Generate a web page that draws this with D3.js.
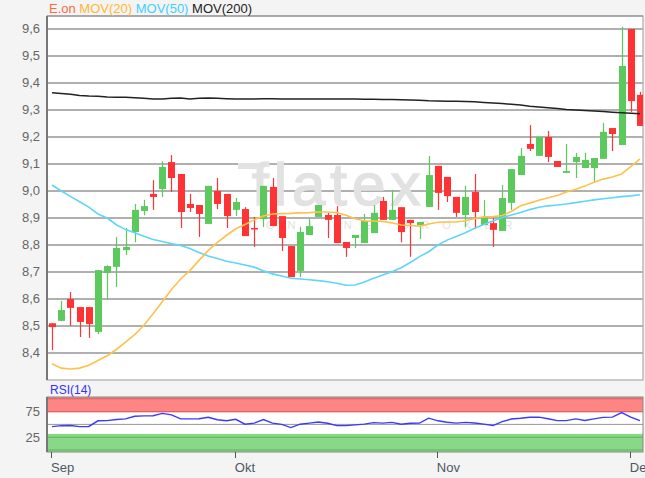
<!DOCTYPE html>
<html><head><meta charset="utf-8">
<script src="https://cdn.jsdelivr.net/npm/d3@7"></script>
<style>html,body{margin:0;padding:0;background:#f4f4f4;overflow:hidden}</style>
</head><body><svg id="c" width="645" height="478"></svg>
<script>
const opens=[8.51,8.519,8.60,8.57,8.57,8.478,8.696,8.719,8.781,8.848,
8.926,8.989,9.007,9.107,9.063,8.952,8.948,8.878,9.0,8.989,
8.93,8.933,8.863,8.896,9.015,8.907,8.796,8.704,8.837,8.904,
8.911,8.911,8.811,8.826,8.807,8.844,8.963,8.893,8.94,8.893,
8.874,8.941,9.093,9.052,8.978,8.911,8.996,8.874,8.881,8.852,
8.956,9.059,9.174,9.13,9.2,9.111,9.067,9.107,9.085,9.085,
9.119,9.233,9.17,9.6,9.356];
const closes=[8.496,8.559,8.567,8.515,8.507,8.707,8.722,8.789,8.793,8.93,
8.944,8.978,9.089,9.048,8.922,8.937,8.915,9.019,8.952,8.907,
8.959,8.833,8.859,9.019,8.87,8.826,8.681,8.848,8.87,8.948,
8.893,8.807,8.789,8.837,8.889,8.919,8.893,8.93,8.848,8.881,
8.885,9.059,8.993,8.981,8.919,8.978,8.922,8.904,8.856,8.974,
9.081,9.13,9.156,9.2,9.126,9.089,9.074,9.126,9.115,9.122,
9.219,9.211,9.463,9.333,9.241];
const highs=[8.511,8.593,8.626,8.57,8.57,8.707,8.725,8.83,8.863,8.952,
8.967,9.04,9.11,9.133,9.063,8.989,8.948,9.019,9.048,8.989,
8.974,8.94,8.904,9.019,9.048,8.907,8.796,8.867,8.896,8.948,
8.919,8.944,8.811,8.837,8.915,8.948,8.978,9.004,8.94,8.893,
8.885,9.13,9.093,9.052,8.978,9.019,9.063,8.967,8.9,9.022,
9.081,9.159,9.244,9.2,9.222,9.111,9.174,9.141,9.141,9.122,
9.252,9.233,9.607,9.6,9.367];
const lows=[8.411,8.519,8.50,8.459,8.456,8.47,8.6,8.644,8.763,8.81,
8.91,8.93,8.978,8.996,8.863,8.922,8.83,8.878,8.933,8.863,
8.907,8.833,8.793,8.867,8.87,8.778,8.681,8.681,8.837,8.904,
8.826,8.807,8.756,8.789,8.807,8.844,8.893,8.893,8.81,8.756,
8.822,8.941,8.93,8.959,8.904,8.867,8.859,8.874,8.793,8.852,
8.93,9.059,9.148,9.13,9.107,9.089,9.067,9.048,9.085,9.033,
9.119,9.148,9.17,9.293,9.241];
const mov20=[8.36,8.344,8.341,8.344,8.355,8.372,8.39,8.413,8.44,8.468,
8.503,8.545,8.59,8.635,8.674,8.705,8.743,8.78,8.81,8.836,
8.86,8.876,8.893,8.907,8.915,8.916,8.917,8.919,8.92,8.922,
8.922,8.92,8.91,8.897,8.889,8.889,8.887,8.882,8.874,8.872,
8.870,8.878,8.884,8.885,8.885,8.89,8.898,8.904,8.905,8.909,
8.924,8.945,8.955,8.966,8.975,8.983,8.996,9.006,9.018,9.032,
9.044,9.052,9.063,9.09,9.119];
const mov50=[9.022,9.0,8.98,8.96,8.94,8.915,8.9,8.875,8.857,8.845,
8.832,8.82,8.813,8.805,8.798,8.787,8.772,8.759,8.75,8.74,
8.733,8.726,8.718,8.705,8.693,8.685,8.677,8.674,8.671,8.668,
8.664,8.658,8.651,8.652,8.663,8.677,8.689,8.701,8.716,8.735,
8.757,8.775,8.8,8.818,8.831,8.845,8.862,8.876,8.889,8.902,
8.911,8.92,8.931,8.94,8.945,8.948,8.952,8.957,8.962,8.967,
8.971,8.975,8.979,8.982,8.986];
const mov200=[9.364,9.361,9.358,9.354,9.352,9.351,9.348,9.347,9.347,9.345,
9.343,9.341,9.341,9.343,9.344,9.341,9.343,9.344,9.343,9.342,
9.341,9.341,9.341,9.342,9.342,9.341,9.341,9.341,9.341,9.341,
9.341,9.341,9.341,9.341,9.340,9.340,9.339,9.339,9.338,9.337,
9.336,9.334,9.333,9.332,9.332,9.331,9.33,9.328,9.326,9.324,
9.321,9.318,9.314,9.311,9.308,9.305,9.302,9.3,9.298,9.296,
9.294,9.292,9.29,9.288,9.286];
const rsi14=[45.7,47.5,47.7,45.7,46,57,57.4,59.5,60.7,66,
66.6,66.8,71.5,68.5,60.7,60.7,61,64,59,57,
60,50.4,52.5,59.5,52.4,50,43.8,50.4,52.4,54.8,
52.2,47.7,47.7,49,50.6,53.4,52.5,54,50.4,52.3,
52.4,62.1,57,54.3,52.5,54,52.6,50.5,47.8,55.5,
60.5,62,64,64.1,61,57.4,57.4,60.7,57.6,60.7,
63.8,64.1,73,64.1,57.4];
const yTicks=[8.4,8.5,8.6,8.7,8.8,8.9,9.0,9.1,9.2,9.3,9.4,9.5,9.6];
const monthLabels=["Sep","Okt","Nov","Dec"];
const monthStartIdx=[0,20,42,63];
const rsiTicks=[25,75];
const legendItems=[{t:"E.on",c:"#ff6a3d"},{t:"MOV(20)",c:"#ffb833"},{t:"MOV(50)",c:"#3fd0ff"},{t:"MOV(200)",c:"#222"}];

const svg=d3.select("#c");
const font="'Liberation Sans', Arial, sans-serif";
const L=47,R=643,T=16,B=380;
const RT=397,RB=452;
const n=opens.length;
const x=d3.scaleLinear().domain([-0.55,64.33]).range([L,R]);
const y=d3.scaleLinear().domain([8.3,9.648]).range([B,T]);
const yr=d3.scaleLinear().domain([-3.9,103.5]).range([RB,RT]);

svg.append("rect").attr("width",645).attr("height",478).attr("fill","#f4f4f4");
svg.append("defs").append("clipPath").attr("id","pc").append("rect").attr("x",L).attr("y",T).attr("width",R-L).attr("height",B-T);

svg.append("rect").attr("x",L).attr("y",T).attr("width",R-L).attr("height",B-T).attr("fill","#fff").attr("stroke","#999").attr("stroke-width",1);

svg.append("g").selectAll("line").data(yTicks).join("line")
 .attr("x1",L).attr("x2",R).attr("y1",d=>Math.round(y(d))).attr("y2",d=>Math.round(y(d)))
 .attr("stroke","#b0b0b0").attr("stroke-width",2);

svg.append("g").selectAll("text").data(yTicks).join("text")
 .attr("x",40).attr("y",d=>y(d)+4.5).attr("text-anchor","end")
 .attr("font-family",font).attr("font-size",13).attr("fill","#666")
 .text(d=>d.toFixed(1).replace(".",","));

// watermark
const wm=svg.append("g").attr("clip-path","url(#pc)");
wm.append("rect").attr("x",238).attr("y",163).attr("width",24).attr("height",6).attr("fill","#e2e2e2");
wm.append("text").attr("x",252).attr("y",205).attr("font-family",font).attr("font-size",60)
 .attr("letter-spacing",5).attr("fill","#e2e2e2").attr("stroke","#e2e2e2").attr("stroke-width",1.5).text("flatex");
wm.append("text").attr("x",266).attr("y",229).attr("font-family",font).attr("font-size",11)
 .attr("letter-spacing",13).attr("fill","#e2e2e2").text("ONLINE BROKER");

const g=svg.append("g").attr("clip-path","url(#pc)");
const idx=d3.range(n);
const bw=7;
const col=i=>closes[i]>=opens[i]?"#5cc95c":"#ff3333";
g.selectAll("line.w").data(idx).join("line").attr("class","w")
 .attr("x1",i=>Math.round(x(i))+0.5).attr("x2",i=>Math.round(x(i))+0.5)
 .attr("y1",i=>y(highs[i])).attr("y2",i=>y(lows[i]))
 .attr("stroke",col).attr("stroke-width",1.2);
g.selectAll("rect.b").data(idx).join("rect").attr("class","b")
 .attr("x",i=>Math.round(x(i))+0.5-bw/2).attr("width",bw)
 .attr("y",i=>y(Math.max(opens[i],closes[i])))
 .attr("height",i=>Math.max(1.5,Math.abs(y(opens[i])-y(closes[i]))))
 .attr("fill",col);

const line=arr=>d3.line().x(i=>x(i)).y(i=>y(arr[i]))(idx);
g.append("path").attr("d",line(mov200)).attr("fill","none").attr("stroke","#222").attr("stroke-width",1.5);
g.append("path").attr("d",line(mov50)).attr("fill","none").attr("stroke","#5fd6f8").attr("stroke-width",1.6);
g.append("path").attr("d",line(mov20)).attr("fill","none").attr("stroke","#ffc14d").attr("stroke-width",1.6);

svg.append("line").attr("x1",L).attr("x2",L).attr("y1",T).attr("y2",B).attr("stroke","#777").attr("stroke-width",2);
svg.append("line").attr("x1",L).attr("x2",R).attr("y1",T).attr("y2",T).attr("stroke","#888").attr("stroke-width",1);

const lg=svg.append("text").attr("x",49).attr("y",13).attr("font-family",font).attr("font-size",13);
legendItems.forEach((d,k)=>{lg.append("tspan").attr("fill",d.c).text((k?" ":"")+d.t);});

// RSI panel
svg.append("text").attr("x",50).attr("y",394).attr("font-family",font).attr("font-size",12).attr("fill","#3333ff").text("RSI(14)");
svg.append("rect").attr("x",L).attr("y",RT).attr("width",R-L).attr("height",RB-RT).attr("fill","#fff");
svg.append("rect").attr("x",L).attr("y",RT).attr("width",R-L).attr("height",yr(73.5)-RT).attr("fill","#ff8585");
svg.append("rect").attr("x",L).attr("y",yr(31.5)).attr("width",R-L).attr("height",RB-yr(31.5)).attr("fill","#88d888");
[100,75].forEach(v=>svg.append("line").attr("x1",L).attr("x2",R).attr("y1",yr(v)).attr("y2",yr(v)).attr("stroke","#d06464").attr("stroke-width",1));
[25,0].forEach(v=>svg.append("line").attr("x1",L).attr("x2",R).attr("y1",yr(v)).attr("y2",yr(v)).attr("stroke","#5cb45c").attr("stroke-width",1));
svg.append("line").attr("x1",L).attr("x2",R).attr("y1",yr(50)).attr("y2",yr(50)).attr("stroke","#999").attr("stroke-width",1);
svg.append("path").attr("d",d3.line().x(i=>x(i)).y(i=>yr(rsi14[i]))(idx)).attr("fill","none").attr("stroke","#3a3aff").attr("stroke-width",1.4);
svg.append("rect").attr("x",L).attr("y",RT).attr("width",R-L).attr("height",RB-RT).attr("fill","none").attr("stroke","#888").attr("stroke-width",1);
svg.append("line").attr("x1",L).attr("x2",L).attr("y1",RT).attr("y2",RB).attr("stroke","#777").attr("stroke-width",2);
svg.append("g").selectAll("text").data(rsiTicks).join("text")
 .attr("x",40).attr("y",d=>yr(d)+4.5).attr("text-anchor","end")
 .attr("font-family",font).attr("font-size",13).attr("fill","#666").text(d=>d);

// x axis
const xa=svg.append("g");
xa.selectAll("line").data(monthStartIdx).join("line")
 .attr("x1",i=>Math.round(x(i))-0.5).attr("x2",i=>Math.round(x(i))-0.5).attr("y1",RB).attr("y2",RB+6)
 .attr("stroke","#555").attr("stroke-width",1);
xa.selectAll("text").data(monthStartIdx).join("text")
 .attr("x",i=>x(i)-1).attr("y",472).attr("font-family",font).attr("font-size",13).attr("fill","#4d5866")
 .text((i,k)=>monthLabels[k]);
</script></body></html>
